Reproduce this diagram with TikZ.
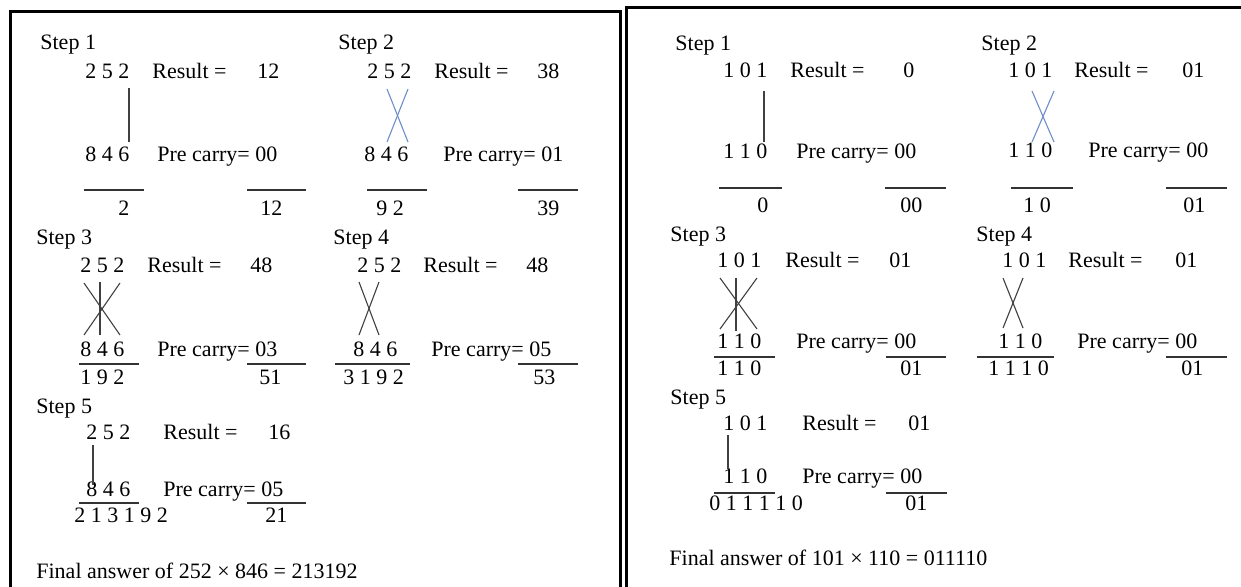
\documentclass[tikz,border=0pt]{standalone}
\usepackage{fontspec}
\setmainfont{Liberation Serif}
\usepackage{tikz}
\usetikzlibrary{calc}
\definecolor{tieblue}{RGB}{110,142,200}
\tikzset{
  txt/.style={anchor=base west, inner sep=0pt, font=\fontsize{11}{13}\selectfont},
  tie/.style={line width=0.55pt, black!75},
  bluetie/.style={line width=0.55pt, tieblue},
  rule/.style={line width=0.6pt, black!80},
  frame/.style={line width=1.5pt, black}
}

\begin{document}
\begin{tikzpicture}[x=0.5pt, y=-0.5pt]
    \useasboundingbox (0,0) rectangle (1241,587);
    \clip (0,0) rectangle (1241,587);
    \draw[frame] (10,600) -- (10,12) -- (620,12) -- (620,600);
    \draw[frame] (626,600) -- (626,8) -- (1250,8);

    % 252 x 846
    \node[txt] (s1) at (40,50) {Step 1};
    \path (85,79) node[txt] (a1) {2 5 2}
     ++ (67,0) node[txt] (ra1) {Result =}
     ++ (105,0) node[txt] (va1) {12};
    \path (85,162) node[txt] (b1) {8 4 6}
     ++ (72,0) node[txt] (rb1) {Pre carry= 00};
    \path (118,216) node[txt] (c1) {2}
     ++ (142,0) node[txt] (vc1) {12};
    \draw[tie] ($(a1.base west) + (44,9)$) -- ($(b1.base west) + (44,-20)$);
    \draw[rule] ($(b1.base west) + (-1,28)$) -- ++(60,0) ($(vc1.base west) + (-13,-26)$) -- ++(59,0);

    \node[txt] (s2) at (338,50) {Step 2};
    \path (367,79) node[txt] (a2) {2 5 2}
     ++ (67,0) node[txt] (ra2) {Result =}
     ++ (103,0) node[txt] (va2) {38};
    \path (364,162) node[txt] (b2) {8 4 6}
     ++ (79,0) node[txt] (rb2) {Pre carry= 01};
    \path (376,216) node[txt] (c2) {9 2}
     ++ (161,0) node[txt] (vc2) {39};
    \draw[bluetie] ($(a2.base west) + (20,10)$) -- ($(b2.base west) + (44,-20)$);
    \draw[bluetie] ($(a2.base west) + (41,10)$) -- ($(b2.base west) + (23,-20)$);
    \draw[rule] ($(b2.base west) + (3,28)$) -- ++(60,0) ($(vc2.base west) + (-19,-26)$) -- ++(60,0);

    \node[txt] (s3) at (36,245) {Step 3};
    \path (80,273) node[txt] (a3) {2 5 2}
     ++ (67,0) node[txt] (ra3) {Result =}
     ++ (103,0) node[txt] (va3) {48};
    \path (80,357) node[txt] (b3) {8 4 6}
     ++ (77,0) node[txt] (rb3) {Pre carry= 03};
    \path (80,385) node[txt] (c3) {1 9 2}
     ++ (179,0) node[txt] (vc3) {51};
    \draw[tie] ($(a3.base west) + (4,10)$) -- ($(b3.base west) + (40,-22)$);
    \draw[tie] ($(a3.base west) + (40,10)$) -- ($(b3.base west) + (4,-22)$);
    \draw[tie] ($(a3.base west) + (20,9)$) -- ($(b3.base west) + (20,-22)$);
    \draw[rule] ($(b3.base west) + (-1,7)$) -- ++(60,0) ($(vc3.base west) + (-12,-21)$) -- ++(59,0);

    \node[txt] (s4) at (333,245) {Step 4};
    \path (357,273) node[txt] (a4) {2 5 2}
     ++ (66,0) node[txt] (ra4) {Result =}
     ++ (103,0) node[txt] (va4) {48};
    \path (353,357) node[txt] (b4) {8 4 6}
     ++ (78,0) node[txt] (rb4) {Pre carry= 05};
    \path (343,385) node[txt] (c4) {3 1 9 2}
     ++ (190,0) node[txt] (vc4) {53};
    \draw[tie] ($(a4.base west) + (2,9)$) -- ($(b4.base west) + (26,-22)$);
    \draw[tie] ($(a4.base west) + (22,9)$) -- ($(b4.base west) + (6,-22)$);
    \draw[rule] ($(b4.base west) + (-18,7)$) -- ++(75,0) ($(vc4.base west) + (-15,-21)$) -- ++(60,0);

    \node[txt] (s5) at (36,413) {Step 5};
    \path (86,439) node[txt] (a5) {2 5 2}
     ++ (77,0) node[txt] (ra5) {Result =}
     ++ (105,0) node[txt] (va5) {16};
    \path (86,496) node[txt] (b5) {8 4 6}
     ++ (77,0) node[txt] (rb5) {Pre carry= 05};
    \path (74,522) node[txt] (c5) {2 1 3 1 9 2}
     ++ (191,0) node[txt] (vc5) {21};
    \draw[tie] ($(a5.base west) + (7,6)$) -- ($(b5.base west) + (7,-11)$);
    \draw[rule] ($(b5.base west) + (-7,7)$) -- ++(60,0) ($(vc5.base west) + (-18,-19)$) -- ++(59,0);

    \node[txt] (fin1) at (36,578) {Final answer of 252 × 846 = 213192};

    % 101 x 110
    \node[txt] (s6) at (675,51) {Step 1};
    \path (723,78) node[txt] (a6) {1 0 1}
     ++ (67,0) node[txt] (ra6) {Result =}
     ++ (113,0) node[txt] (va6) {0};
    \path (723,159) node[txt] (b6) {1 1 0}
     ++ (73,0) node[txt] (rb6) {Pre carry= 00};
    \path (757,213) node[txt] (c6) {0}
     ++ (143,0) node[txt] (vc6) {00};
    \draw[tie] ($(a6.base west) + (41,13)$) -- ($(b6.base west) + (41,-17)$);
    \draw[rule] ($(b6.base west) + (-4,29)$) -- ++(63,0) ($(vc6.base west) + (-15,-25)$) -- ++(61,0);

    \node[txt] (s7) at (981,51) {Step 2};
    \path (1008,78) node[txt] (a7) {1 0 1}
     ++ (66,0) node[txt] (ra7) {Result =}
     ++ (108,0) node[txt] (va7) {01};
    \path (1008,158) node[txt] (b7) {1 1 0}
     ++ (80,0) node[txt] (rb7) {Pre carry= 00};
    \path (1023,213) node[txt] (c7) {1 0}
     ++ (160,0) node[txt] (vc7) {01};
    \draw[bluetie] ($(a7.base west) + (24,13)$) -- ($(b7.base west) + (46,-16)$);
    \draw[bluetie] ($(a7.base west) + (46,13)$) -- ($(b7.base west) + (24,-16)$);
    \draw[rule] ($(b7.base west) + (3,30)$) -- ++(62,0) ($(vc7.base west) + (-17,-25)$) -- ++(61,0);

    \node[txt] (s8) at (670,242) {Step 3};
    \path (717,268) node[txt] (a8) {1 0 1}
     ++ (68,0) node[txt] (ra8) {Result =}
     ++ (104,0) node[txt] (va8) {01};
    \path (717,349) node[txt] (b8) {1 1 0}
     ++ (79,0) node[txt] (rb8) {Pre carry= 00};
    \path (717,375) node[txt] (c8) {1 1 0}
     ++ (183,0) node[txt] (vc8) {01};
    \draw[tie] ($(a8.base west) + (3,10)$) -- ($(b8.base west) + (40,-20)$);
    \draw[tie] ($(a8.base west) + (40,10)$) -- ($(b8.base west) + (3,-20)$);
    \draw[tie] ($(a8.base west) + (19,10)$) -- ($(b8.base west) + (19,-18)$);
    \draw[rule] ($(b8.base west) + (-3,8)$) -- ++(61,0) ($(vc8.base west) + (-14,-18)$) -- ++(60,0);

    \node[txt] (s9) at (976,242) {Step 4};
    \path (1002,268) node[txt] (a9) {1 0 1}
     ++ (66,0) node[txt] (ra9) {Result =}
     ++ (107,0) node[txt] (va9) {01};
    \path (998,349) node[txt] (b9) {1 1 0}
     ++ (79,0) node[txt] (rb9) {Pre carry= 00};
    \path (988,375) node[txt] (c9) {1 1 1 0}
     ++ (193,0) node[txt] (vc9) {01};
    \draw[tie] ($(a9.base west) + (1,10)$) -- ($(b9.base west) + (25,-21)$);
    \draw[tie] ($(a9.base west) + (21,10)$) -- ($(b9.base west) + (5,-21)$);
    \draw[rule] ($(b9.base west) + (-21,8)$) -- ++(77,0) ($(vc9.base west) + (-15,-18)$) -- ++(61,0);

    \node[txt] (s10) at (670,404) {Step 5};
    \path (723,430) node[txt] (a10) {1 0 1}
     ++ (79,0) node[txt] (ra10) {Result =}
     ++ (106,0) node[txt] (va10) {01};
    \path (723,483) node[txt] (b10) {1 1 0}
     ++ (79,0) node[txt] (rb10) {Pre carry= 00};
    \path (709,510) node[txt] (c10) {0 1 1 1 1 0}
     ++ (196,0) node[txt] (vc10) {01};
    \draw[tie] ($(a10.base west) + (5,5)$) -- ($(b10.base west) + (5,-14)$);
    \draw[rule] ($(b10.base west) + (-9,10)$) -- ++(61,0) ($(vc10.base west) + (-19,-17)$) -- ++(61,0);

    \node[txt] (fin2) at (669,565) {Final answer of 101 × 110 = 011110};
\end{tikzpicture}
\end{document}
